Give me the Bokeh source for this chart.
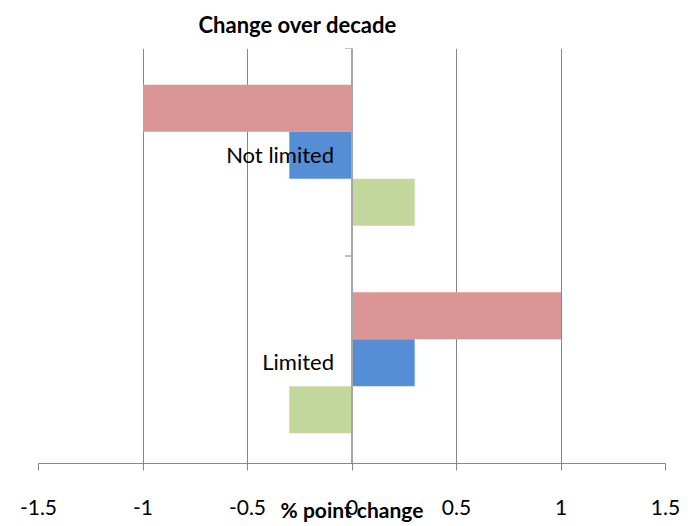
from bokeh.plotting import figure
from bokeh.models import Range1d, FixedTicker, Span
from bokeh.core.properties import value
from bokeh.embed import file_html
from bokeh.resources import INLINE

# ---- data ----
categories = ["Not limited", "Limited"]
series_names = ["Series 1", "Series 2", "Series 3"]
series_red = [-1.0, 1.0]
series_blue = [-0.3, 0.3]
series_green = [0.3, -0.3]
x_ticks = [-1.5, -1, -0.5, 0, 0.5, 1, 1.5]
x_tick_labels = ["-1.5", "-1", "-0.5", "0", "0.5", "1", "1.5"]
title_text = "Change over decade"
x_title = "% point change"

# ---- style ----
colors = ["#D99694", "#558ED5", "#C3D69B"]
FONT = "Lato"
GRID = "#868686"
W, H = 698, 526
BL, BR, BT, BB = 38, 33, 48, 63
FRAME_W = W - BL - BR
n = len(categories)
bar_h = 0.2265
group_shift = -0.015

p = figure(width=W, height=H, output_backend="svg", toolbar_location=None,
           x_range=Range1d(x_ticks[0], x_ticks[-1]), y_range=Range1d(0, n),
           y_axis_location=None,
           min_border_left=BL, min_border_right=BR, min_border_top=BT, min_border_bottom=BB)

p.outline_line_color = None
p.background_fill_color = "white"
p.border_fill_color = "white"

# title
p.title.text = title_text
p.title.text_font = FONT
p.title.text_font_size = "22px"
p.title.text_font_style = "bold"
p.title.text_color = "black"
p.title.text_line_height = 0.7
p.title.align = "left"
p.title.vertical_align = "top"
p.title.offset = 160
p.title.standoff = 18

# grid
p.xgrid.ticker = FixedTicker(ticks=x_ticks)
p.xgrid.grid_line_color = GRID
p.xgrid.grid_line_width = 1
p.ygrid.visible = False

# x axis
ax = p.xaxis[0]
ax.ticker = FixedTicker(ticks=x_ticks)
ax.major_label_overrides = {t: l for t, l in zip(x_ticks, x_tick_labels)}
ax.axis_line_color = GRID
ax.major_tick_line_color = GRID
ax.major_tick_out = 7
ax.major_tick_in = 0
ax.minor_tick_line_color = None
ax.major_label_standoff = 29
ax.major_label_text_font = FONT
ax.major_label_text_font_size = "21px"
ax.major_label_text_color = "black"
ax.axis_label = x_title
ax.axis_label_standoff = -21
ax.axis_label_text_font = FONT
ax.axis_label_text_font_size = "21px"
ax.axis_label_text_font_style = "bold"
ax.axis_label_text_color = "black"

# bars
centers = [n - i - 0.5 for i in range(n)]
offsets = [bar_h + group_shift, group_shift, -bar_h + group_shift]
for vals, off, col, name in zip([series_red, series_blue, series_green], offsets, colors, series_names):
    p.hbar(y=[c + off for c in centers], left=0, right=vals, height=bar_h,
           fill_color=col, line_color=None, name=name)

# vertical category axis at x = 0
p.add_layout(Span(location=0, dimension="height", line_color="#A6A6A6", line_width=2))
tick_len = 7 * (x_ticks[-1] - x_ticks[0]) / FRAME_W
bounds = list(range(n + 1))
p.segment(x0=[0] * len(bounds), y0=bounds, x1=[-tick_len] * len(bounds), y1=bounds,
          line_color=GRID, line_width=1)

# category labels
p.text(x=[0] * n, y=centers, text=categories, x_offset=-18, y_offset=2,
       text_align="right", text_baseline="middle",
       text_font=value(FONT), text_font_size="22px", text_color="black")

open("out.html", "w").write(file_html(p, INLINE))
